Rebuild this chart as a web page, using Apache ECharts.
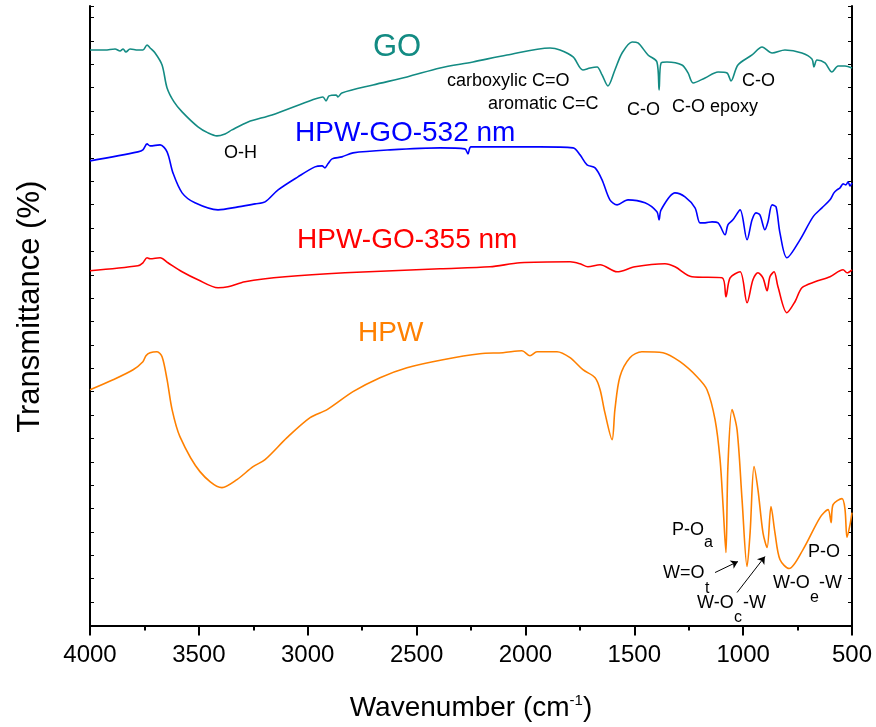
<!DOCTYPE html>
<html>
<head>
<meta charset="utf-8">
<script src="https://cdn.jsdelivr.net/npm/echarts@6/dist/echarts.min.js"></script>
<style>
  html, body { margin: 0; padding: 0; background: #fff; }
  #chart { width: 876px; height: 727px; }
</style>
</head>
<body>
<div id="chart"></div>
<script>
// [wavenumber cm-1, transmittance (arb. units)]
const goData = [
  [4000, 576], [3931, 576], [3885, 577], [3862, 575], [3848, 577], [3835, 574], [3816, 577],
  [3780, 576], [3757, 576], [3738, 581], [3724, 578], [3701, 573], [3669, 561], [3646, 538],
  [3614, 524], [3577, 514], [3504, 499], [3458, 493], [3417, 490], [3380, 492], [3348, 496],
  [3274, 504], [3164, 511], [2980, 526], [2930, 529], [2916, 525], [2902, 530], [2870, 531],
  [2861, 529], [2843, 533], [2700, 541], [2544, 549], [2392, 558], [2241, 564], [2085, 571],
  [1887, 578], [1841, 576], [1781, 569], [1736, 556], [1703, 558], [1671, 559], [1648, 551],
  [1621, 540], [1589, 556], [1556, 573], [1510, 584], [1483, 583], [1437, 571], [1396, 564],
  [1386, 536], [1377, 563], [1350, 564], [1281, 561], [1253, 553], [1230, 543], [1175, 548],
  [1115, 554], [1074, 553], [1056, 545], [1024, 561], [959, 571], [913, 579], [867, 573],
  [808, 576], [730, 573], [684, 567], [675, 559], [661, 566], [624, 563], [592, 554],
  [564, 560], [532, 560], [500, 558]
]

const hpwGo532Data = [
  [4000, 465], [3780, 474], [3757, 476], [3738, 482], [3724, 480], [3678, 481], [3646, 474],
  [3619, 453], [3577, 433], [3518, 423], [3412, 416], [3320, 419], [3242, 422], [3196, 424],
  [3136, 436], [3045, 449], [2967, 459], [2934, 460], [2921, 458], [2907, 462], [2888, 467],
  [2843, 469], [2792, 473], [2622, 476], [2392, 478], [2278, 477], [2264, 472], [2250, 479],
  [1933, 479], [1781, 478], [1749, 471], [1717, 461], [1680, 458], [1648, 446], [1612, 426],
  [1579, 421], [1529, 426], [1451, 423], [1396, 414], [1386, 406], [1377, 416], [1313, 433],
  [1267, 429], [1221, 418], [1198, 403], [1175, 403], [1143, 404], [1115, 403], [1083, 391],
  [1070, 401], [1047, 406], [1014, 416], [982, 386], [959, 406], [941, 413], [923, 411],
  [900, 396], [886, 404], [867, 421], [849, 419], [831, 393], [799, 368], [739, 386],
  [679, 409], [638, 418], [601, 426], [583, 433], [569, 436], [555, 438], [541, 442],
  [528, 441], [518, 444], [509, 440], [500, 443]
]

const hpwGo355Data = [
  [4000, 355], [3780, 360], [3757, 363], [3738, 368], [3724, 367], [3678, 368], [3642, 363],
  [3577, 354], [3504, 346], [3412, 338], [3366, 339], [3288, 344], [3104, 349], [2829, 353],
  [2392, 357], [2163, 359], [2025, 363], [1795, 364], [1749, 362], [1713, 359], [1657, 361],
  [1579, 354], [1497, 359], [1359, 362], [1313, 359], [1235, 349], [1097, 348], [1079, 329],
  [1060, 348], [1014, 354], [982, 323], [955, 346], [932, 353], [909, 348], [890, 335],
  [877, 349], [858, 354], [840, 339], [799, 313], [762, 324], [730, 338], [670, 344],
  [601, 349], [541, 356], [523, 353], [500, 356]
]

const hpwData = [
  [4000, 236], [3894, 246], [3802, 256], [3757, 264], [3743, 270], [3724, 273], [3692, 274],
  [3669, 269], [3646, 246], [3623, 216], [3587, 189], [3495, 154], [3394, 138], [3325, 146],
  [3251, 159], [3196, 166], [3095, 188], [2989, 208], [2911, 216], [2792, 234], [2668, 248],
  [2544, 258], [2379, 266], [2209, 272], [2103, 273], [2016, 275], [1979, 270], [1947, 274],
  [1855, 274], [1795, 268], [1736, 256], [1680, 248], [1657, 236], [1635, 213], [1602, 186],
  [1589, 216], [1566, 249], [1520, 268], [1465, 274], [1368, 273], [1290, 264], [1212, 249],
  [1166, 236], [1129, 206], [1106, 166], [1092, 119], [1079, 73], [1070, 159], [1051, 216],
  [1028, 196], [1005, 126], [982, 59], [968, 93], [950, 159], [932, 136], [909, 93],
  [890, 78], [872, 119], [854, 93], [831, 66], [789, 57], [725, 76], [647, 108], [610, 116],
  [596, 103], [587, 121], [546, 127], [532, 116], [523, 88], [509, 101], [500, 113]
]

// arrows pointing at the HPW bands: [from, to]
const hpwArrows = [
  [[1129, 53], [1024, 64]],
  [[1028, 33], [900, 69]]
]

const seriesNames = ['GO', 'HPW-GO-532 nm', 'HPW-GO-355 nm', 'HPW']
const seriesColors = ['#138b83', '#0000ff', '#ff0000', '#ff8000']
const seriesData = [goData, hpwGo532Data, hpwGo355Data, hpwData]

const font = '"Liberation Sans", Arial, sans-serif'

const chart = echarts.init(document.getElementById('chart'))

const txt = (text, x, y, size, color) => ({
  type: 'text',
  x: x,
  y: y,
  style: {
    text: text,
    fill: color || '#000',
    font: size + 'px ' + font,
    textVerticalAlign: 'middle'
  }
})

const option = {
  backgroundColor: '#fff',
  animation: false,
  grid: { left: 90, right: 24, top: 6, bottom: 101 },
  xAxis: [{
    type: 'value',
    inverse: true,
    min: 500,
    max: 4000,
    interval: 500,
    name: 'Wavenumber (cm{sup|-1})',
    nameLocation: 'middle',
    nameGap: 68,
    nameTextStyle: {
      fontFamily: font,
      fontSize: 28,
      color: '#000',
      rich: {
        sup: { fontSize: 15, verticalAlign: 'top', padding: [0, 0, 14, 0], fontFamily: font, color: '#000' }
      }
    },
    axisLine: { lineStyle: { color: '#000', width: 2 } },
    axisTick: { inside: false, length: 10, lineStyle: { color: '#000', width: 2 } },
    minorTick: { show: true, splitNumber: 2, length: 5, lineStyle: { color: '#000', width: 2 } },
    axisLabel: { fontFamily: font, fontSize: 24, color: '#000', margin: 18, formatter: v => String(v) },
    splitLine: { show: false }
  }, {
    type: 'value',
    position: 'top',
    inverse: true,
    min: 500,
    max: 4000,
    interval: 500,
    axisLine: { show: true, lineStyle: { color: '#000', width: 2 } },
    axisTick: { inside: true, length: 5, lineStyle: { color: '#000', width: 1 } },
    minorTick: { show: true, splitNumber: 2, length: 3, lineStyle: { color: '#000', width: 1 } },
    axisLabel: { show: false },
    splitLine: { show: false }
  }],
  yAxis: [{
    type: 'value',
    min: 0,
    max: 620,
    interval: 23.4,
    name: 'Transmittance (%)',
    nameLocation: 'middle',
    nameGap: 44,
    nameTextStyle: { fontFamily: font, fontSize: 31, color: '#000', padding: [0, 0, 0, 18] },
    axisLine: { show: true, lineStyle: { color: '#000', width: 2 } },
    axisTick: { inside: true, length: 4, lineStyle: { color: '#000', width: 1 } },
    axisLabel: { show: false },
    splitLine: { show: false }
  }, {
    type: 'value',
    position: 'right',
    min: 0,
    max: 620,
    interval: 23.4,
    axisLine: { show: true, lineStyle: { color: '#000', width: 2 } },
    axisTick: { inside: true, length: 4, lineStyle: { color: '#000', width: 1 } },
    axisLabel: { show: false },
    splitLine: { show: false }
  }],
  series: seriesData.map((d, i) => ({
    name: seriesNames[i],
    type: 'line',
    data: d,
    showSymbol: false,
    smooth: 0.3,
    lineStyle: { color: seriesColors[i], width: 1.6 },
    z: 3,
    markLine: i === 3 ? {
      silent: true,
      symbol: ['none', 'arrow'],
      symbolSize: 7,
      label: { show: false },
      lineStyle: { color: '#000', width: 1, type: 'solid' },
      data: hpwArrows.map(a => [{ coord: a[0] }, { coord: a[1] }])
    } : undefined
  })),
  graphic: [
    txt('GO', 373, 47, 31, seriesColors[0]),
    txt('HPW-GO-532 nm', 295, 133, 28, seriesColors[1]),
    txt('HPW-GO-355 nm', 297, 240, 28, seriesColors[2]),
    txt('HPW', 358, 333, 28, seriesColors[3]),
    txt('O-H', 224, 153, 18),
    txt('carboxylic C=O', 447, 81, 18),
    txt('aromatic C=C', 488, 104, 18),
    txt('C-O', 627, 110, 18),
    txt('C-O epoxy', 672, 107, 18),
    txt('C-O', 742, 81, 18),
    txt('P-O', 672, 530, 18),
    txt('a', 704, 543, 16),
    txt('W=O', 663, 573, 18),
    txt('t', 705, 589, 16),
    txt('W-O', 697, 603, 18),
    txt('c', 734, 618, 16),
    txt('-W', 743, 603, 18),
    txt('W-O', 773, 583, 18),
    txt('e', 810, 598, 16),
    txt('-W', 819, 583, 18),
    txt('P-O', 808, 552, 18)
  ]
}

chart.setOption(option)
</script>
</body>
</html>
